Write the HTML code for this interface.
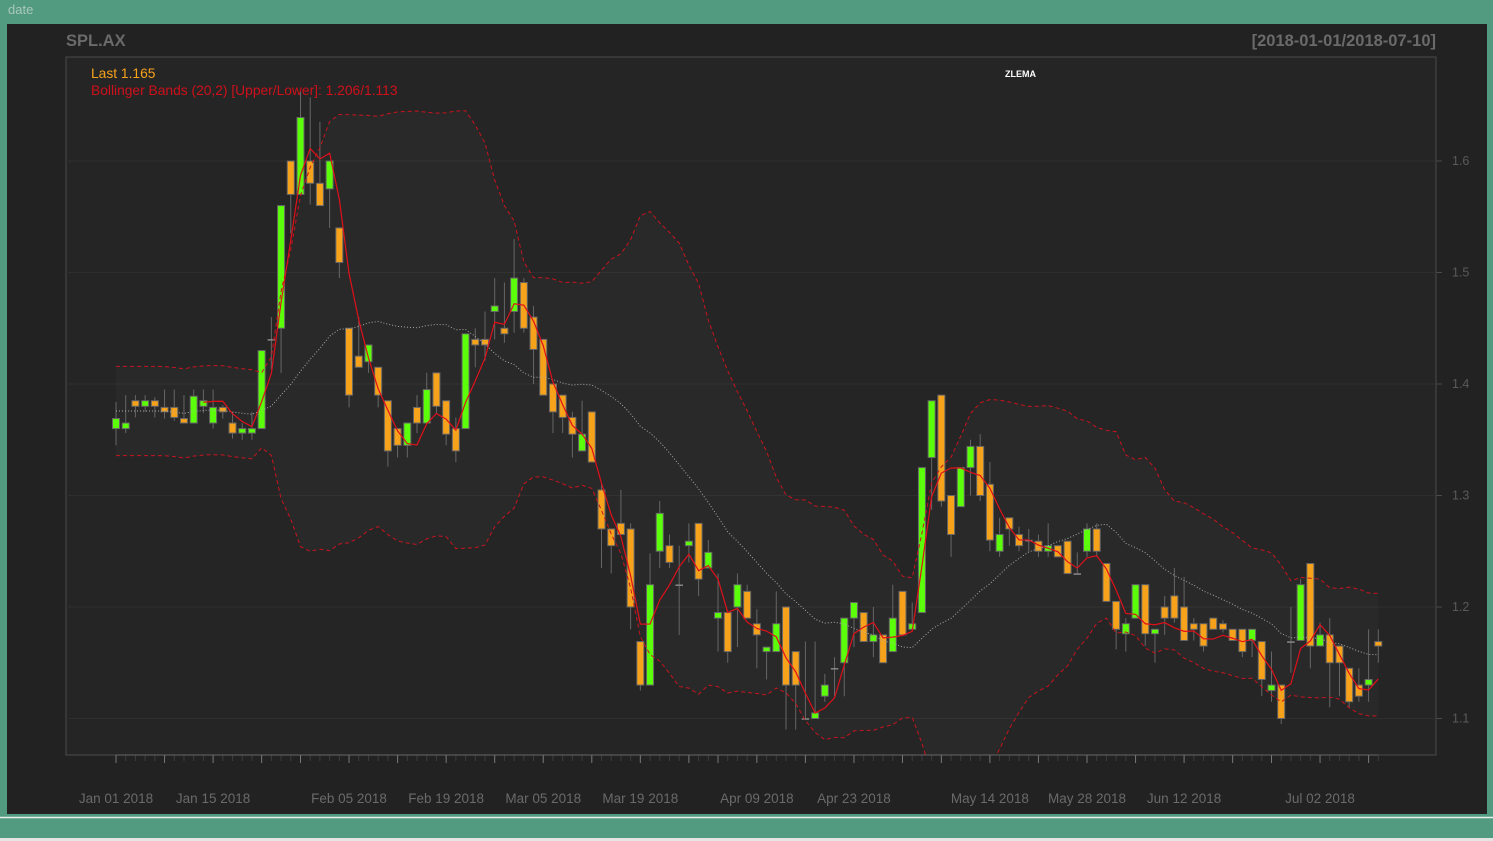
<!DOCTYPE html>
<html><head><meta charset="utf-8"><style>
body{margin:0;width:1493px;height:841px;overflow:hidden;background:#e4e4e4;font-family:"Liberation Sans",sans-serif}
</style></head><body>
<svg id="chart" width="1493" height="841" xmlns="http://www.w3.org/2000/svg" style="position:absolute;left:0;top:0">
<defs><clipPath id="plotclip"><rect x="66" y="57" width="1370" height="698"/></clipPath></defs>
<rect x="0" y="0" width="1493" height="838" fill="#529b80"/>
<text x="8" y="14" font-size="13" fill="#a8c8bc">date</text>
<rect x="7" y="24" width="1480" height="790" fill="#222222"/>
<line x1="0" y1="817.5" x2="1493" y2="817.5" stroke="#e8f0ec" stroke-width="1.5"/>
<rect x="66" y="57" width="1370" height="698" fill="#252525" stroke="#4a4a4a" stroke-width="1"/>
<text x="66" y="46" font-size="16.5" font-weight="bold" fill="#6a6a6a">SPL.AX</text>
<text x="1436" y="46" font-size="16.5" font-weight="bold" fill="#6a6a6a" text-anchor="end">[2018-01-01/2018-07-10]</text>
<text x="91" y="78" font-size="13.8" fill="#f7a21b">Last 1.165</text>
<text x="91" y="95" font-size="13.8" fill="#d0101a">Bollinger Bands (20,2) [Upper/Lower]: 1.206/1.113</text>
<text x="1005" y="77" font-size="9" font-weight="bold" fill="#ffffff">ZLEMA</text>
<g id="grid"></g><g clip-path="url(#plotclip)"><g id="bands"></g><g id="candles"></g><g id="lines"></g></g><g id="axes"></g>
</svg>
<script>
const opens=[1.360,1.360,1.385,1.380,1.385,1.379,1.379,1.369,1.365,1.380,1.365,1.379,1.365,1.356,1.356,1.360,1.440,1.450,1.600,1.570,1.600,1.580,1.575,1.540,1.450,1.425,1.420,1.415,1.385,1.360,1.345,1.379,1.365,1.410,1.385,1.360,1.360,1.440,1.440,1.465,1.450,1.465,1.491,1.460,1.440,1.400,1.390,1.370,1.340,1.375,1.305,1.270,1.275,1.270,1.169,1.130,1.250,1.255,1.220,1.255,1.275,1.235,1.190,1.195,1.200,1.214,1.185,1.160,1.160,1.200,1.160,1.100,1.100,1.120,1.145,1.150,1.190,1.195,1.169,1.175,1.160,1.214,1.180,1.195,1.334,1.390,1.300,1.290,1.325,1.344,1.310,1.250,1.280,1.265,1.260,1.259,1.250,1.255,1.259,1.230,1.250,1.270,1.239,1.205,1.176,1.190,1.220,1.176,1.200,1.210,1.200,1.185,1.185,1.190,1.185,1.180,1.180,1.170,1.169,1.125,1.130,1.169,1.170,1.239,1.165,1.175,1.165,1.145,1.130,1.130,1.169];
const highs=[1.384,1.390,1.390,1.390,1.388,1.395,1.395,1.390,1.395,1.395,1.395,1.381,1.375,1.365,1.375,1.430,1.460,1.560,1.600,1.662,1.657,1.635,1.600,1.540,1.450,1.460,1.435,1.415,1.385,1.360,1.365,1.390,1.410,1.410,1.385,1.370,1.445,1.450,1.465,1.495,1.491,1.530,1.495,1.470,1.440,1.400,1.390,1.375,1.385,1.375,1.310,1.270,1.305,1.275,1.169,1.248,1.295,1.265,1.255,1.275,1.275,1.260,1.230,1.195,1.230,1.220,1.198,1.164,1.214,1.200,1.160,1.169,1.169,1.140,1.155,1.190,1.204,1.195,1.200,1.175,1.220,1.214,1.204,1.325,1.385,1.390,1.300,1.325,1.350,1.355,1.330,1.280,1.280,1.272,1.270,1.265,1.275,1.255,1.259,1.249,1.275,1.275,1.239,1.205,1.190,1.220,1.220,1.180,1.210,1.235,1.227,1.190,1.185,1.190,1.188,1.180,1.180,1.180,1.169,1.160,1.130,1.200,1.225,1.239,1.186,1.190,1.165,1.145,1.145,1.180,1.180];
const lows=[1.345,1.356,1.370,1.375,1.370,1.369,1.367,1.365,1.365,1.374,1.360,1.369,1.351,1.350,1.350,1.360,1.413,1.410,1.535,1.570,1.561,1.560,1.540,1.495,1.379,1.415,1.410,1.379,1.326,1.334,1.334,1.356,1.365,1.374,1.345,1.330,1.360,1.415,1.421,1.440,1.437,1.446,1.446,1.400,1.390,1.356,1.356,1.334,1.340,1.330,1.235,1.230,1.265,1.180,1.125,1.130,1.235,1.235,1.175,1.240,1.210,1.235,1.160,1.150,1.164,1.190,1.145,1.135,1.160,1.090,1.090,1.100,1.100,1.115,1.120,1.120,1.164,1.169,1.155,1.150,1.160,1.175,1.180,1.195,1.287,1.290,1.245,1.290,1.300,1.295,1.250,1.245,1.255,1.250,1.250,1.245,1.245,1.245,1.230,1.230,1.245,1.245,1.205,1.162,1.160,1.190,1.165,1.150,1.175,1.186,1.170,1.170,1.160,1.180,1.177,1.170,1.155,1.155,1.120,1.115,1.095,1.141,1.170,1.145,1.165,1.110,1.120,1.110,1.115,1.115,1.150];
const closes=[1.369,1.365,1.380,1.385,1.380,1.375,1.370,1.365,1.389,1.385,1.379,1.375,1.356,1.360,1.360,1.430,1.440,1.560,1.570,1.639,1.580,1.560,1.600,1.509,1.390,1.415,1.435,1.390,1.340,1.345,1.365,1.365,1.395,1.380,1.355,1.340,1.445,1.435,1.435,1.470,1.445,1.495,1.450,1.431,1.390,1.375,1.370,1.355,1.355,1.330,1.270,1.255,1.265,1.200,1.130,1.220,1.284,1.240,1.220,1.259,1.225,1.249,1.195,1.160,1.220,1.190,1.175,1.164,1.185,1.130,1.130,1.100,1.105,1.130,1.145,1.190,1.204,1.169,1.175,1.150,1.190,1.175,1.185,1.325,1.385,1.295,1.265,1.325,1.344,1.300,1.260,1.265,1.270,1.255,1.260,1.250,1.255,1.245,1.230,1.230,1.270,1.250,1.205,1.180,1.185,1.220,1.176,1.180,1.190,1.190,1.170,1.180,1.165,1.180,1.180,1.170,1.160,1.180,1.135,1.130,1.100,1.169,1.220,1.165,1.175,1.150,1.150,1.115,1.120,1.135,1.165];
const yTicks=[1.1,1.2,1.3,1.4,1.5,1.6];
const yTickLabels=["1.1","1.2","1.3","1.4","1.5","1.6"];
const majorTickIdx=[0,5,10,15,19,24,29,34,39,44,49,54,59,62,66,71,76,81,85,90,95,100,105,110,115,119,124,129];
const labelIdx=[0,10,24,34,44,54,66,76,90,100,110,124];
const labelText=["Jan 01 2018","Jan 15 2018","Feb 05 2018","Feb 19 2018","Mar 05 2018","Mar 19 2018","Apr 09 2018","Apr 23 2018","May 14 2018","May 28 2018","Jun 12 2018","Jul 02 2018"];

const NS="http://www.w3.org/2000/svg";
const X=i=>116+i*9.71;
const Y=p=>161+(1.6-p)*1115;
function mk(tag,parent,attrs){const e=document.createElementNS(NS,tag);for(const k in attrs)e.setAttribute(k,attrs[k]);parent.appendChild(e);return e;}
const gGrid=document.getElementById('grid'),gB=document.getElementById('bands'),gC=document.getElementById('candles'),gL=document.getElementById('lines'),gA=document.getElementById('axes');

yTicks.forEach((v,k)=>{
  const l=mk('line',gGrid,{x1:66,x2:1436,y1:Y(v),y2:Y(v),stroke:'#2e2e2e','stroke-width':1});
  
  
  const t=mk('line',gA,{x1:1436,x2:1442,y1:Y(v),y2:Y(v),stroke:'#4a4a4a'});
  
  
  const tx=mk('text',gA,{x:1452,y:Y(v)+4,'font-size':12.5,fill:'#5a5a5a'});
  tx.textContent=yTickLabels[k];
  
  
});

const n=closes.length,up=[],lo=[],mid=[];
for(let i=0;i<n;i++){
  const s=Math.max(0,i-19),e=Math.max(i,4);
  const w=closes.slice(s,e+1);const m=w.reduce((a,b)=>a+b,0)/w.length;
  let sd=Math.sqrt(w.reduce((a,b)=>a+(b-m)*(b-m),0)/w.length);
  if(i<15) sd=Math.max(sd,0.02);
  mid.push(m);up.push(m+2*sd);lo.push(m-2*sd);
}
const zl=[];const zn=10,lag=4,alpha=2/(zn+1);let ema=null;
for(let i=0;i<n;i++){
  if(i<lag){zl.push(null);continue;}
  const v=2*closes[i]-closes[i-lag];
  ema=ema===null?v:alpha*v+(1-alpha)*ema;
  zl.push(i>=9?ema:null);
}
let fillD='M'+up.map((v,i)=>X(i)+','+Y(v)).join(' L')+' L'+lo.map((v,i)=>X(i)+','+Y(v)).reverse().join(' L')+' Z';
const fill=mk('path',gB,{d:fillD,fill:'rgba(255,255,255,0.018)'});


const pl=arr=>arr.map((v,i)=>v===null?null:X(i)+','+Y(v)).filter(s=>s).join(' ');
const upL=mk('polyline',gL,{points:pl(up),fill:'none',stroke:'#c8141e','stroke-width':1,'stroke-dasharray':'4 3'});


const loL=mk('polyline',gL,{points:pl(lo),fill:'none',stroke:'#c8141e','stroke-width':1,'stroke-dasharray':'4 3'});


const mdL=mk('polyline',gL,{points:pl(mid),fill:'none',stroke:'#aaaaaa','stroke-width':1,'stroke-dasharray':'1 2'});


const zL=mk('polyline',gL,{points:pl(zl),fill:'none',stroke:'#e0101a','stroke-width':1.2});



for(let i=0;i<n;i++){
  const x=X(i),o=opens[i],c=closes[i];
  const w=mk('line',gC,{x1:x,x2:x,y1:Y(highs[i]),y2:Y(lows[i]),stroke:'#666','stroke-width':1});
  
  
  const top=Y(Math.max(o,c)),bot=Y(Math.min(o,c));
  const col=c>o?'#5cff0a':(c<o?'#f7a21b':'#888');
  const h=Math.max(bot-top,1);
  const r=mk('rect',gC,{x:x-3.5,y:top,width:7,height:h,fill:col,stroke:c===o?'#888':'#666','stroke-width':c===o?0.5:1});
  
  
}

for(let i=0;i<n;i++){
  const t=mk('line',gA,{x1:X(i),x2:X(i),y1:755,y2:761,stroke:'#3c3c3c'});
  
  
}
majorTickIdx.forEach(i=>{
  const t=mk('line',gA,{x1:X(i),x2:X(i),y1:755,y2:763,stroke:'#777'});
  
  
});
const ax=mk('line',gA,{x1:X(0),x2:X(n-1),y1:755,y2:755,stroke:'#666'});


labelIdx.forEach((i,k)=>{
  const t=mk('text',gA,{x:X(i),y:803,'font-size':13.5,fill:'#6a6a6a','text-anchor':'middle'});
  t.textContent=labelText[k];
  
  
});
</script>
</body></html>
